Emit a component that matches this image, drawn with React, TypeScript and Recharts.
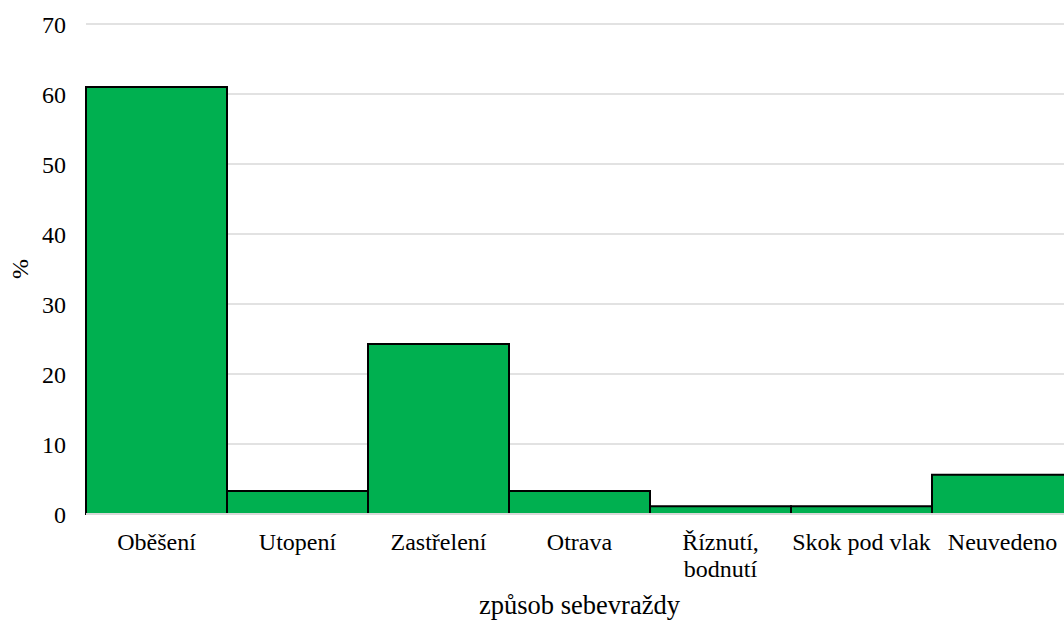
import { BarChart, Bar, XAxis, YAxis, CartesianGrid, Label } from 'recharts';

const categories = ['Oběšení', 'Utopení', 'Zastřelení', 'Otrava', 'Říznutí,\nbodnutí', 'Skok pod vlak', 'Neuvedeno'];
const percents = [61.0, 3.3, 24.3, 3.3, 1.1, 1.1, 5.6];
const yTicks = [0, 10, 20, 30, 40, 50, 60, 70];

const data = categories.map((name, i) => ({ name, value: percents[i] }));

const FONT = 'Liberation Serif, Times New Roman, serif';
const textStyle = { fontFamily: FONT, fontSize: 24, fill: '#000' };

const CategoryTick = (props: any) => {
    const { x, y, payload } = props;
    const lines = String(payload.value).split('\n');
    return (
        <text x={x} y={y} textAnchor="middle" style={textStyle}>
            {lines.map((line, i) => (
                <tspan key={i} x={x} dy={i === 0 ? 36 : 27}>{line}</tspan>
            ))}
        </text>
    );
};

const App = () => {
    return (
        <div style={{ position: 'fixed', left: 0, top: 0, width: 1064, height: 620, overflow: 'hidden', background: '#fff', fontFamily: FONT }}>
            <BarChart width={1080} height={620} data={data}
                margin={{ top: 24, right: 7, left: 0, bottom: 0 }}
                barCategoryGap={0} style={{ fontFamily: FONT }}>
                <CartesianGrid vertical={false} stroke="#d9d9d9" strokeWidth={1.5} />
                <XAxis dataKey="name" height={106} tickLine={false} tickSize={0} tickMargin={0}
                    axisLine={{ stroke: '#d9d9d9', strokeWidth: 2 }}
                    interval={0} tick={<CategoryTick />}>
                    <Label value="způsob sebevraždy" position="insideBottom" offset={6}
                        style={{ ...textStyle, fontSize: 26.5 }} />
                </XAxis>
                <YAxis width={86} domain={[0, 70]} ticks={yTicks} axisLine={false} tickLine={false}
                    tickMargin={14}
                    tick={textStyle}>
                    <Label content={(p: any) => {
                        const vb = p.viewBox;
                        const cx = vb.x + 20;
                        const cy = vb.y + vb.height / 2;
                        return (
                            <text x={cx} y={cy} transform={`rotate(-90, ${cx}, ${cy})`} textAnchor="middle"
                                dominantBaseline="central" style={textStyle}>%</text>
                        );
                    }} />
                </YAxis>
                <Bar dataKey="value" fill="#00B050" stroke="#000" strokeWidth={2} isAnimationActive={false} />
            </BarChart>
        </div>
    );
};

export default App;
